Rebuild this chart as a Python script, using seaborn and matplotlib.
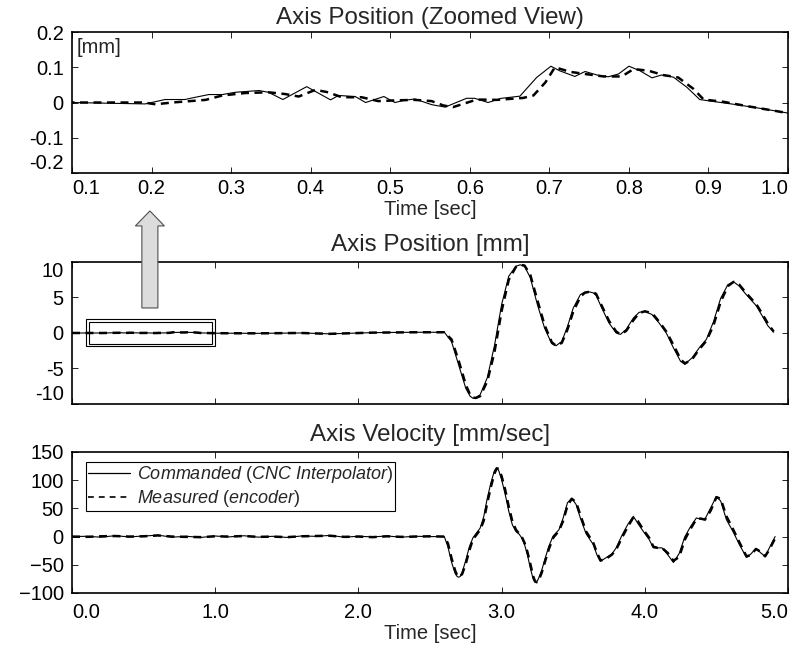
import matplotlib
matplotlib.use("Agg")
import matplotlib.pyplot as plt
from matplotlib.lines import Line2D
from matplotlib.patches import Rectangle, FancyArrow
import seaborn as sns

# ---- position, commanded (CNC interpolator) [sec], [mm]
t_pos_cmd = [0.0, 0.1, 0.192, 0.217, 0.242, 0.251, 0.272, 0.289, 0.305, 0.335, 0.347,
             0.365, 0.395, 0.425, 0.435, 0.456, 0.469, 0.492, 0.506, 0.517, 0.531, 0.552,
             0.569, 0.596, 0.606, 0.623, 0.640, 0.663, 0.684, 0.702, 0.713, 0.732, 0.745,
             0.760, 0.774, 0.787, 0.800, 0.814, 0.829, 0.841, 0.856, 0.873, 0.889, 0.906,
             0.935, 0.969, 1.0,
             1.3, 1.6, 1.8, 2.1, 2.4, 2.6,
             2.65, 2.70, 2.75, 2.78, 2.80, 2.82, 2.85, 2.90, 2.95, 3.00, 3.05, 3.10, 3.13,
             3.16, 3.20, 3.25, 3.30, 3.35, 3.38, 3.42, 3.46, 3.50, 3.55, 3.58, 3.61, 3.64,
             3.66, 3.70, 3.75, 3.80, 3.83, 3.87, 3.92, 3.96, 4.00, 4.05, 4.10, 4.15, 4.20,
             4.25, 4.28, 4.33, 4.38, 4.43, 4.48, 4.53, 4.58, 4.62, 4.66, 4.70, 4.74, 4.78,
             4.82, 4.86, 4.90]
pos_cmd = [0, 0, -0.004, 0.0085, 0.0085, 0.013, 0.0226, 0.0226, 0.029, 0.034, 0.029,
           0.0085, 0.045, 0.0075, 0.020, 0.017, 0.0, 0.017, 0.0, 0.006, 0.010, -0.006,
           -0.013, 0.012, 0.012, 0.0, 0.012, 0.018, 0.071, 0.103, 0.090, 0.074, 0.088,
           0.078, 0.073, 0.081, 0.103, 0.090, 0.070, 0.078, 0.072, 0.043, 0.0085, 0.003,
           -0.006, -0.018, -0.030,
           -0.05, 0.0, -0.12, 0.05, 0.1, 0.1,
           -1.2, -4.5, -7.8, -8.9, -9.2, -9.1, -8.7, -6.3, -1.8, 4.0, 8.0, 9.4, 9.6,
           9.4, 7.8, 4.0, 0.7, -1.5, -1.8, -1.2, 0.9, 3.5, 5.4, 5.75, 5.8, 5.65,
           5.3, 3.5, 1.4, 0.0, -0.2, 0.5, 2.1, 2.9, 3.05, 2.6, 1.4, 0.0, -2.1,
           -4.0, -4.4, -3.5, -2.1, -0.9, 1.6, 4.9, 6.8, 7.2, 6.6, 5.6, 4.7, 3.8,
           2.4, 1.0, 0.1]

# ---- position, measured (encoder)
t_pos_meas = [0.0, 0.1, 0.19, 0.205, 0.226, 0.268, 0.289, 0.318, 0.347, 0.368, 0.385,
              0.406, 0.422, 0.439, 0.464, 0.485, 0.506, 0.531, 0.552, 0.567, 0.579, 0.609,
              0.634, 0.667, 0.680, 0.695, 0.707, 0.726, 0.745, 0.768, 0.791, 0.806, 0.825,
              0.843, 0.862, 0.881, 0.894, 0.919, 0.948, 1.0,
              1.3, 1.6, 1.8, 2.1, 2.4, 2.6,
              2.65, 2.70, 2.75, 2.78, 2.80, 2.82, 2.85, 2.90, 2.95, 3.00, 3.05, 3.10, 3.13,
              3.16, 3.20, 3.25, 3.30, 3.35, 3.38, 3.42, 3.46, 3.50, 3.55, 3.58, 3.61, 3.64,
              3.66, 3.70, 3.75, 3.80, 3.83, 3.87, 3.92, 3.96, 4.00, 4.05, 4.10, 4.15, 4.20,
              4.25, 4.28, 4.33, 4.38, 4.43, 4.48, 4.53, 4.58, 4.62, 4.66, 4.70, 4.74, 4.78,
              4.82, 4.86, 4.90]
pos_meas = [0, 0, 0, -0.005, 0.0, 0.0075, 0.020, 0.027, 0.029, 0.024, 0.017,
            0.036, 0.029, 0.015, 0.015, 0.004, 0.006, 0.0075, 0.004, -0.0085, -0.013, 0.0085,
            0.0075, 0.013, 0.020, 0.057, 0.100, 0.087, 0.081, 0.074, 0.074, 0.095, 0.090,
            0.078, 0.071, 0.039, 0.0085, 0.002, -0.010, -0.030,
            -0.05, 0.0, -0.12, 0.05, 0.1, 0.1,
            -0.9, -3.9, -7.3, -8.7, -9.1, -9.15, -8.9, -6.8, -2.7, 3.1, 7.5, 9.3, 9.6,
            9.5, 8.2, 4.6, 1.1, -1.3, -1.8, -1.4, 0.5, 3.0, 5.1, 5.65, 5.8, 5.75,
            5.5, 3.8, 1.7, 0.2, -0.2, 0.3, 1.8, 2.8, 3.05, 2.8, 1.6, 0.2, -1.7,
            -3.7, -4.3, -3.7, -2.3, -1.1, 1.1, 4.4, 6.6, 7.2, 6.8, 5.8, 4.9, 4.0,
            2.7, 1.3, 0.2]

# ---- velocity [mm/sec]
t_vel = [0.0, 0.1, 0.2, 0.3, 0.4, 0.5, 0.6, 0.7, 0.8, 0.9, 1.0, 1.1, 1.2, 1.3, 1.4,
         1.5, 1.6, 1.7, 1.8, 1.9, 2.0, 2.1, 2.2, 2.3, 2.4, 2.5,
         2.60, 2.625, 2.65, 2.675, 2.69, 2.70, 2.71, 2.725, 2.75, 2.775, 2.80, 2.85,
         2.875, 2.90, 2.925, 2.95, 2.966, 2.98, 3.00, 3.025, 3.05, 3.075, 3.10, 3.12,
         3.14, 3.16, 3.18, 3.20, 3.22, 3.233, 3.245, 3.26, 3.28, 3.30, 3.33, 3.36, 3.40,
         3.43, 3.46, 3.49, 3.52, 3.55, 3.59, 3.64, 3.665, 3.69, 3.72, 3.77, 3.80, 3.84,
         3.88, 3.92, 3.95, 3.99, 4.03, 4.06, 4.09, 4.12, 4.16, 4.20, 4.24, 4.28, 4.32,
         4.36, 4.39, 4.42, 4.46, 4.50, 4.53, 4.57, 4.62, 4.66, 4.71, 4.74, 4.776, 4.81,
         4.84, 4.87, 4.91]
vel_cmd = [0, 0.5, -1.0, 1.5, -0.5, 1.0, 2.5, -1.0, 0.5, -1.5, 1.0, -0.5, 1.5, -1.0, 0.5,
           -1.5, 1.0, 0.5, 2.0, -1.0, 0.5, -0.5, 1.0, -1.0, 0.5, 0.0,
           0, -18, -45, -65, -71, -72, -71, -63, -42, -18, -2, 15,
           35, 68, 95, 117, 122, 117, 101, 75, 45, 21, 9, 5,
           -2, -14, -32, -55, -75, -81, -81, -73, -60, -42, -17, 1, 12,
           33, 60, 68, 57, 33, 5, -14, -32, -44, -39, -31, -20, 2,
           21, 36, 24, 9, -5, -20, -20, -20, -32, -46, -30, 0, 18,
           33, 31, 31, 51, 71, 63, 30, 7, -14, -37, -31, -21, -29,
           -35, -20, 0]
vel_meas = [0, -0.5, 0.5, 1.0, 0.0, 0.5, 2.0, 0.0, -0.5, -1.0, 0.5, 0.0, 1.0, -0.5, 0.0,
            -1.0, 0.5, 1.0, 1.5, -0.5, 0.0, -1.0, 0.5, -0.5, 0.0, 0.5,
            0, -12, -38, -60, -69, -71, -71, -66, -48, -24, -5, 12,
            28, 60, 88, 112, 121, 120, 107, 83, 53, 27, 12, 6,
            0, -11, -27, -48, -70, -79, -81, -77, -64, -47, -22, -2, 10,
            28, 55, 67, 61, 38, 9, -11, -28, -42, -41, -32, -23, -2,
            17, 34, 28, 12, -2, -18, -20, -20, -29, -43, -36, -5, 14,
            31, 32, 30, 46, 70, 67, 36, 11, -10, -35, -33, -22, -27,
            -35, -23, -3]

# zoomed window shown in the top panel
zoom_t = [0.1, 1.0]
zoom_y = [-0.2, 0.2]

sns.set_style("ticks")
plt.rcParams.update({
    "font.family": "Liberation Sans",
    "font.size": 14.5,
    "axes.linewidth": 1.2,
    "axes.edgecolor": "black",
    "xtick.direction": "in",
    "ytick.direction": "in",
    "xtick.top": True,
    "ytick.right": True,
    "xtick.major.size": 4,
    "ytick.major.size": 4,
    "xtick.major.width": 0.6,
    "ytick.major.width": 0.6,
    "xtick.color": "black",
    "ytick.color": "black",
    "mathtext.fontset": "custom",
    "mathtext.rm": "Liberation Sans",
    "mathtext.it": "Liberation Sans:italic",
})

fig = plt.figure(figsize=(7.93, 6.47), dpi=100)
ax_zoom = fig.add_axes([0.0908, 0.7326, 0.9029, 0.2179])
ax_pos = fig.add_axes([0.0908, 0.3756, 0.9029, 0.2195])
ax_vel = fig.add_axes([0.0908, 0.0835, 0.9029, 0.2179])

dash = (0, (3.2, 2.2))
meas_kw = dict(color="black", lw=1.8, linestyle=dash, zorder=2, estimator=None)
cmd_kw = dict(color="black", lw=0.8, zorder=3, estimator=None)


def pull_in_edges(ax, x=True, y_first=None, y_last=None):
    # keep the outermost tick labels inside the axes span, as in the original
    if x:
        xl = ax.get_xticklabels()
        xl[0].set_ha("left")
        xl[-1].set_ha("right")
    yl = ax.get_yticklabels()
    if y_first:
        yl[0].set_va(y_first)
    if y_last:
        yl[-1].set_va(y_last)


# top: zoomed position
sns.lineplot(x=t_pos_meas, y=pos_meas, ax=ax_zoom, **meas_kw)
sns.lineplot(x=t_pos_cmd, y=pos_cmd, ax=ax_zoom, **cmd_kw)
ax_zoom.set_xlim(*zoom_t)
ax_zoom.set_ylim(*zoom_y)
ax_zoom.set_xticks([0.1, 0.2, 0.3, 0.4, 0.5, 0.6, 0.7, 0.8, 0.9, 1.0],
                   ["0.1", "0.2", "0.3", "0.4", "0.5", "0.6", "0.7", "0.8", "0.9", "1.0"])
ax_zoom.set_yticks([-0.2, -0.1, 0, 0.1, 0.2], ["-0.2", "-0.1", "0", "0.1", "0.2"])
ax_zoom.tick_params(axis="x", pad=4)
ax_zoom.tick_params(axis="y", pad=6)
pull_in_edges(ax_zoom, y_first="bottom")
ax_zoom.set_title("Axis Position (Zoomed View)", pad=6)
ax_zoom.set_xlabel("Time [sec]", labelpad=2)
ax_zoom.set_ylabel("")
ax_zoom.text(0.007, 0.955, "[mm]", transform=ax_zoom.transAxes, ha="left", va="top")

# middle: full position
sns.lineplot(x=t_pos_meas, y=pos_meas, ax=ax_pos, **meas_kw)
sns.lineplot(x=t_pos_cmd, y=pos_cmd, ax=ax_pos, **cmd_kw)
ax_pos.set_xlim(0, 5)
ax_pos.set_ylim(-10, 10)
ax_pos.set_xticks([0, 1, 2, 3, 4, 5], [])
ax_pos.set_yticks([-10, -5, 0, 5, 10], ["-10", "-5", "0", "5", "10"])
ax_pos.tick_params(axis="y", pad=6)
pull_in_edges(ax_pos, x=False, y_first="bottom", y_last="top")
ax_pos.set_title("Axis Position [mm]", pad=8)
ax_pos.set_xlabel("")
ax_pos.set_ylabel("")
ax_pos.add_patch(Rectangle((zoom_t[0], -1.9), zoom_t[1] - zoom_t[0], 3.85,
                           fill=False, lw=0.8, ec="black", zorder=4))
ax_pos.add_patch(Rectangle((zoom_t[0] + 0.02, -1.5), zoom_t[1] - zoom_t[0] - 0.04, 3.0,
                           fill=False, lw=0.8, ec="black", zorder=4))

# arrow from the box up to the zoomed panel
fig.add_artist(FancyArrow(0.189, 0.524, 0, 0.150, width=0.0202, head_width=0.0366,
                          head_length=0.0232, length_includes_head=True,
                          transform=fig.transFigure, facecolor="#dcdcdc",
                          edgecolor="#505050", lw=0.8, zorder=5))

# bottom: velocity
sns.lineplot(x=t_vel, y=vel_meas, ax=ax_vel, **meas_kw)
sns.lineplot(x=t_vel, y=vel_cmd, ax=ax_vel, **cmd_kw)
ax_vel.set_xlim(0, 5)
ax_vel.set_ylim(-100, 150)
ax_vel.set_xticks([0, 1, 2, 3, 4, 5], ["0.0", "1.0", "2.0", "3.0", "4.0", "5.0"])
ax_vel.set_yticks([-100, -50, 0, 50, 100, 150],
                  ["\u2212100", "\u221250", "0", "50", "100", "150"])
ax_vel.tick_params(axis="x", pad=7)
ax_vel.tick_params(axis="y", pad=6)
pull_in_edges(ax_vel)
ax_vel.set_title("Axis Velocity [mm/sec]", pad=8)
ax_vel.set_xlabel("Time [sec]", labelpad=2)
ax_vel.set_ylabel("")

handles = [Line2D([], [], color="black", lw=0.9),
           Line2D([], [], color="black", lw=1.2, linestyle=(0, (3.5, 3)))]
labels = [r"$\mathit{Commanded}$ ($\mathit{CNC\ Interpolator}$)",
          r"$\mathit{Measured}$ ($\mathit{encoder}$)"]
leg = ax_vel.legend(handles, labels, loc="upper left", bbox_to_anchor=(0.0196, 0.929),
                    borderaxespad=0, fancybox=False, edgecolor="black", framealpha=1,
                    fontsize=13, handlelength=2.3, borderpad=0.12, labelspacing=0.15,
                    handletextpad=0.4)
leg.get_frame().set_linewidth(0.8)

for ax in (ax_zoom, ax_pos, ax_vel):
    for s in ax.spines.values():
        s.set_visible(True)

fig.savefig("out.png", dpi=100)
